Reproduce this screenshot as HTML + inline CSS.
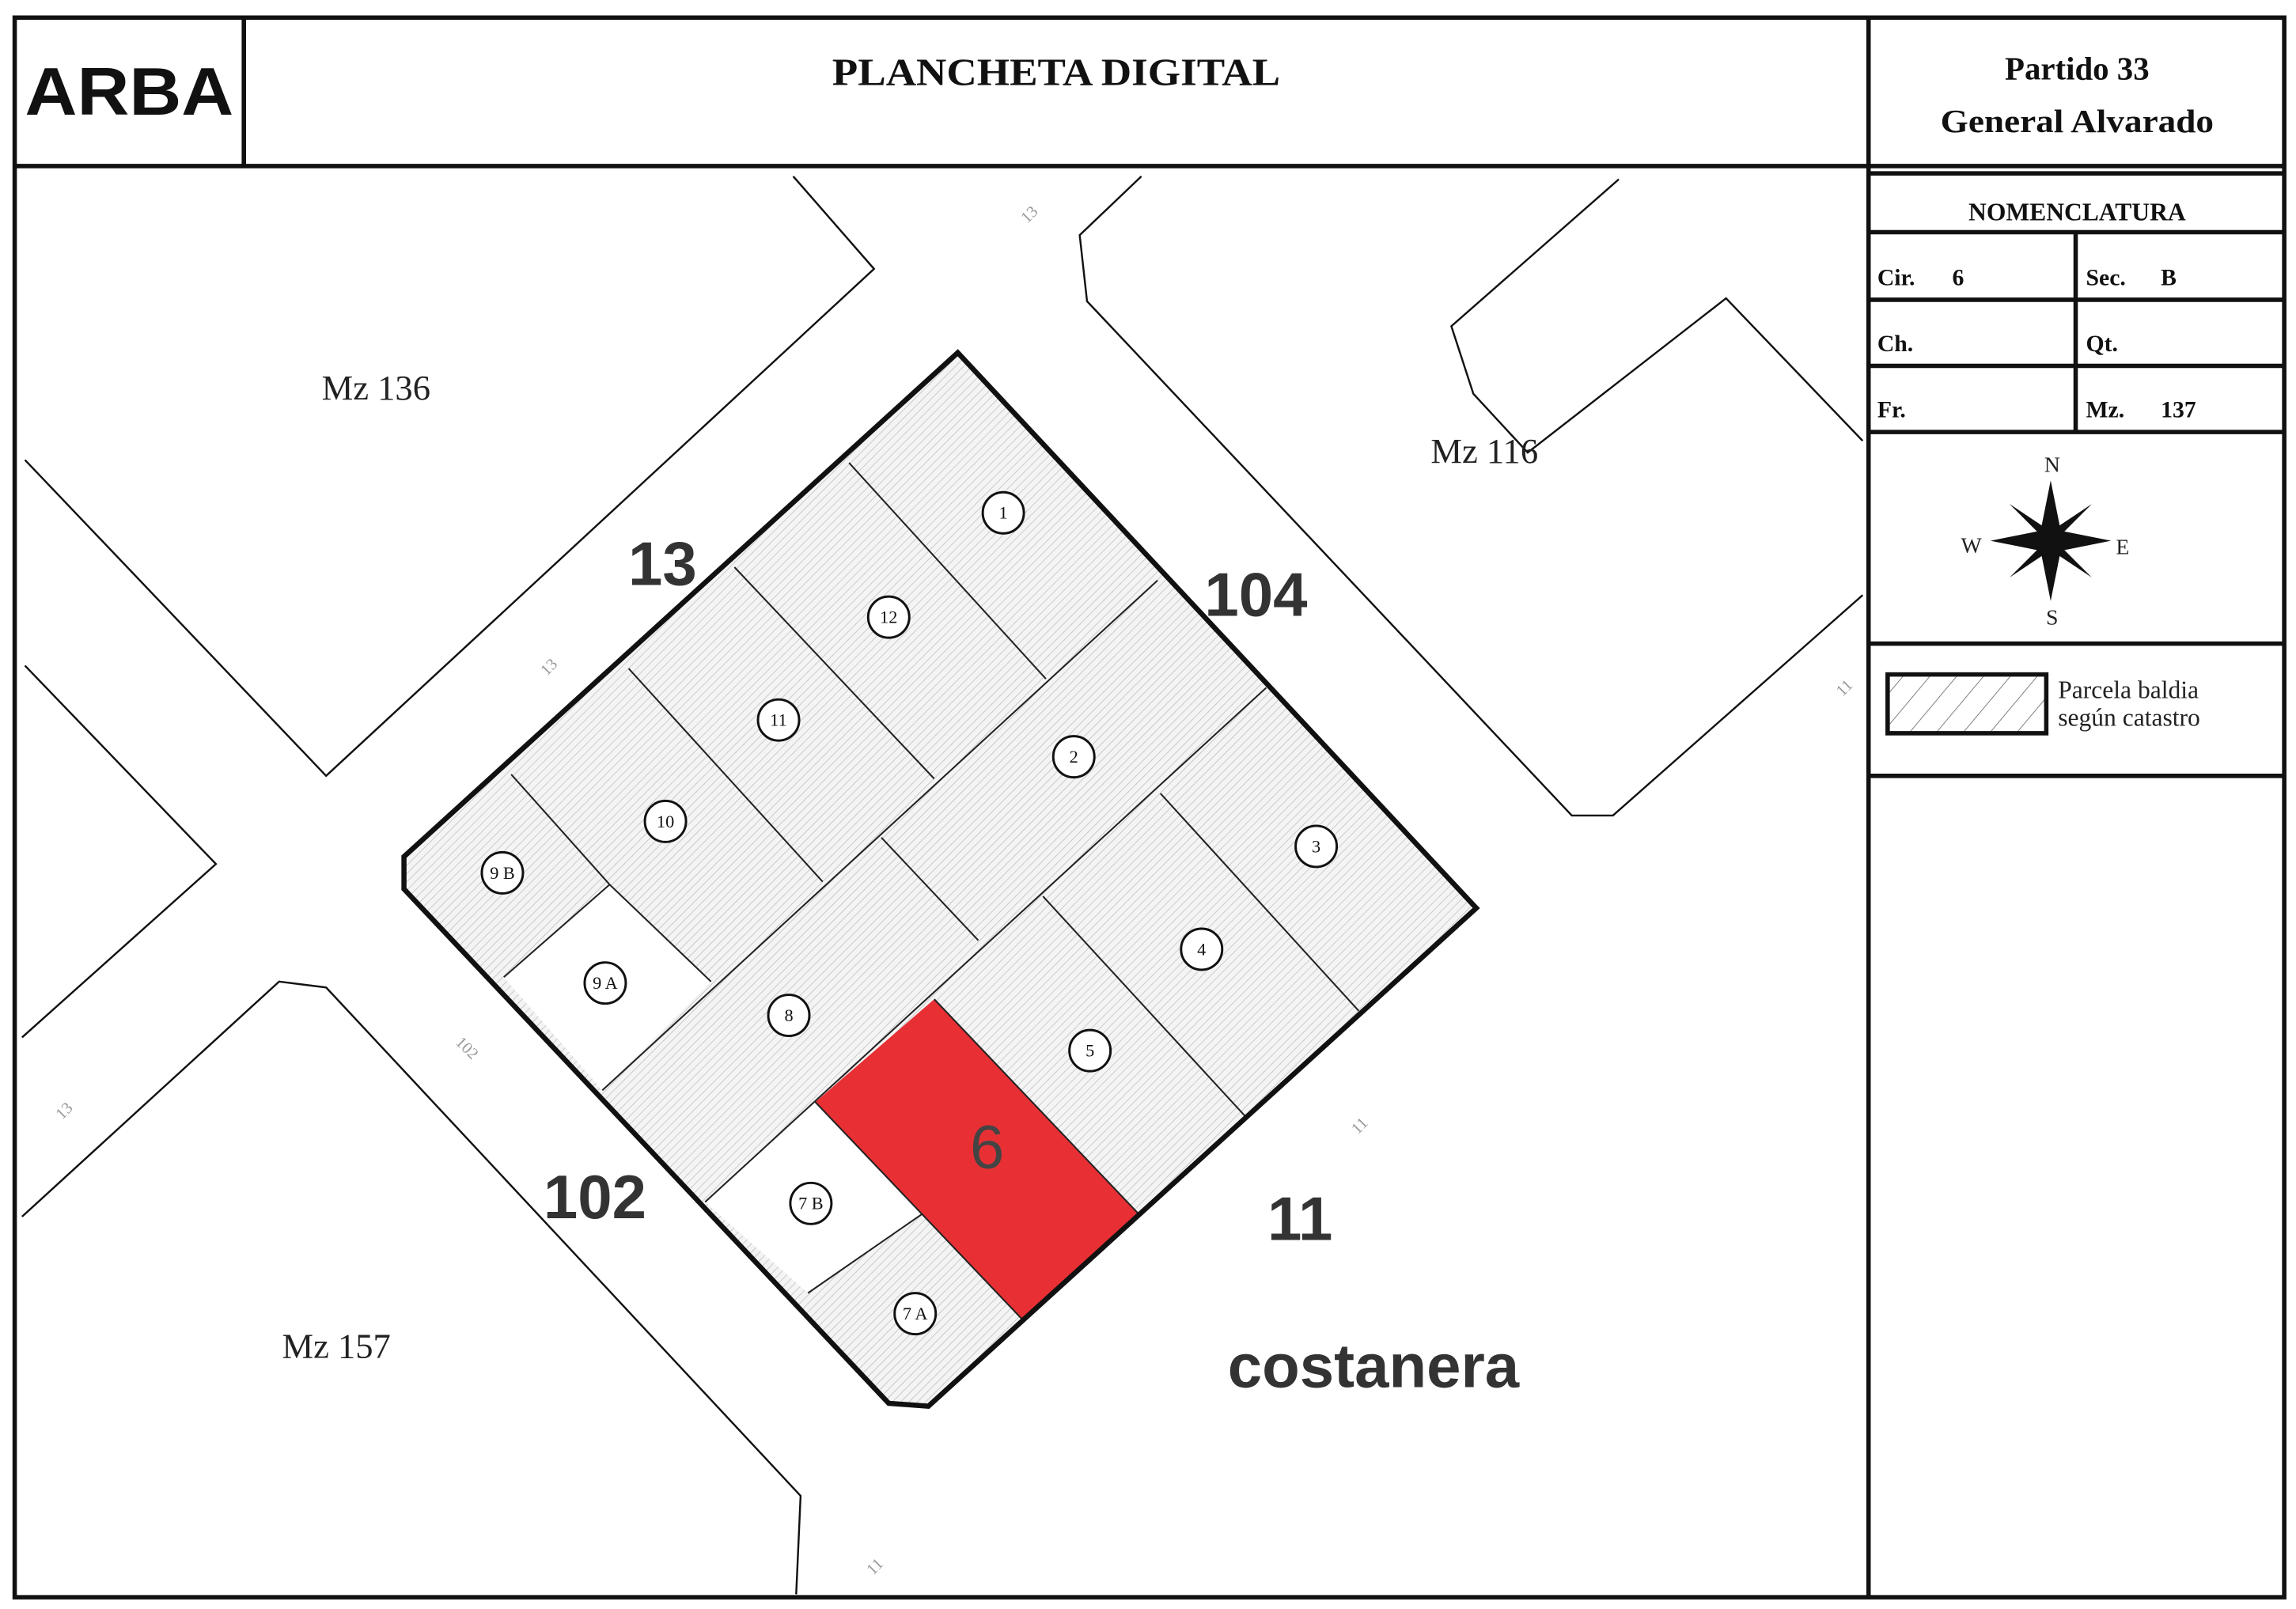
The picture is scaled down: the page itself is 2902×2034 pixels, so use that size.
<!DOCTYPE html>
<html><head><meta charset="utf-8"><style>
html,body{margin:0;padding:0;background:#fff;}
svg{display:block;}
</style></head><body>
<svg width="2902" height="2034" viewBox="0 0 1563 1095" preserveAspectRatio="none" xmlns="http://www.w3.org/2000/svg">
<defs>
<pattern id="h" width="4" height="4" patternUnits="userSpaceOnUse" patternTransform="rotate(45)">
<rect width="4" height="4" fill="#f4f4f4"/>
<line x1="0" y1="0" x2="0" y2="4" stroke="#bdbdbd" stroke-width="0.8"/>
</pattern>
<pattern id="lg" width="14" height="14" patternUnits="userSpaceOnUse" patternTransform="rotate(40)">
<line x1="0" y1="0" x2="0" y2="14" stroke="#555" stroke-width="0.8"/>
</pattern>
</defs>
<rect width="1563" height="1095" fill="#fff"/>
<g fill="none" stroke="#111" stroke-width="3">
<rect x="10" y="12" width="1545" height="1075"/>
<line x1="10" y1="113" x2="1555" y2="113"/>
<line x1="166" y1="12" x2="166" y2="113"/>
<line x1="1272" y1="12" x2="1272" y2="1087"/>
<line x1="1272" y1="118" x2="1555" y2="118"/>
<line x1="1272" y1="158" x2="1555" y2="158"/>
<line x1="1272" y1="204" x2="1555" y2="204"/>
<line x1="1272" y1="249" x2="1555" y2="249"/>
<line x1="1272" y1="294" x2="1555" y2="294"/>
<line x1="1413" y1="158" x2="1413" y2="294"/>
<line x1="1272" y1="438" x2="1555" y2="438"/>
<line x1="1272" y1="528" x2="1555" y2="528"/>
</g>
<text x="88" y="78" font-family="Liberation Sans, sans-serif" font-weight="bold" font-size="46" text-anchor="middle" fill="#111" textLength="142" lengthAdjust="spacingAndGlyphs">ARBA</text>
<text x="719" y="58" font-family="Liberation Serif, serif" font-weight="bold" font-size="26" text-anchor="middle" fill="#111" textLength="305" lengthAdjust="spacingAndGlyphs">PLANCHETA DIGITAL</text>
<g font-family="Liberation Serif, serif" font-weight="bold" fill="#111">
<text x="1414" y="54" font-size="22" text-anchor="middle">Partido 33</text>
<text x="1414" y="90" font-size="22" text-anchor="middle" textLength="186" lengthAdjust="spacingAndGlyphs">General Alvarado</text>
<text x="1414" y="150" font-size="17" text-anchor="middle">NOMENCLATURA</text>
<text x="1278" y="194" font-size="16">Cir.</text><text x="1329" y="194" font-size="16">6</text>
<text x="1420" y="194" font-size="16">Sec.</text><text x="1471" y="194" font-size="16">B</text>
<text x="1278" y="239" font-size="16">Ch.</text>
<text x="1420" y="239" font-size="16">Qt.</text>
<text x="1278" y="284" font-size="16">Fr.</text>
<text x="1420" y="284" font-size="16">Mz.</text><text x="1471" y="284" font-size="16">137</text>
</g>
<g fill="#111">
<polygon points="1396,327 1403,362 1396,368 1389,362"/>
<polygon points="1396,409 1389,374 1396,368 1403,374"/>
<polygon points="1355,368 1390,361 1396,368 1390,375"/>
<polygon points="1437,368 1402,375 1396,368 1402,361"/>
<polygon points="1368,343 1398,363 1396,368 1391,366"/>
<polygon points="1424,393 1394,373 1396,368 1401,370"/>
<polygon points="1424,343 1401,366 1396,368 1394,363"/>
<polygon points="1368,393 1391,370 1396,368 1398,373"/>
</g>
<g font-family="Liberation Serif, serif" font-size="15" fill="#222" text-anchor="middle">
<text x="1397" y="321">N</text><text x="1397" y="425">S</text>
<text x="1342" y="376">W</text><text x="1445" y="377">E</text>
</g>
<rect x="1285" y="459" width="108" height="40" fill="url(#lg)" stroke="#111" stroke-width="3"/>
<g font-family="Liberation Serif, serif" font-size="17" fill="#222">
<text x="1401" y="475">Parcela baldia</text>
<text x="1401" y="494">según catastro</text>
</g>
<g fill="none" stroke="#111" stroke-width="1.3">
<polyline points="540,120 595,183 222,528 17,313"/>
<polyline points="17,453 147,588 15,706"/>
<polyline points="15,828 190,668 222,672 545,1018 542,1085"/>
<polyline points="777,120 735,160 740,205 1070,555 1098,555 1268,405"/>
<polyline points="1102,122 988,222 1003,268 1040,308 1175,203 1268,300"/>
</g>
<polygon points="652,240 1005,618 632,957 605,955 275,605 275,583" fill="url(#h)"/>
<polygon points="343,665 415,602 484,668 410,742" fill="#fff"/>
<polygon points="480,818 555,750 628,826 550,880" fill="#fff"/>
<polygon points="636,680 775,826 696,898 555,750" fill="#e83034"/>
<g fill="none" stroke="#222" stroke-width="1.1">
<line x1="788" y1="395" x2="410" y2="742"/>
<line x1="862" y1="468" x2="480" y2="818"/>
<line x1="578" y1="315" x2="712" y2="462"/>
<line x1="500" y1="386" x2="636" y2="530"/>
<line x1="428" y1="455" x2="560" y2="600"/>
<line x1="348" y1="527" x2="415" y2="602"/>
<line x1="343" y1="665" x2="415" y2="602"/>
<line x1="415" y1="602" x2="484" y2="668"/>
<line x1="600" y1="570" x2="666" y2="640"/>
<line x1="790" y1="540" x2="925" y2="688"/>
<line x1="710" y1="610" x2="848" y2="760"/>
<line x1="636" y1="680" x2="775" y2="826"/>
<line x1="555" y1="750" x2="696" y2="898"/>
<line x1="550" y1="880" x2="628" y2="826"/>
</g>
<polygon points="652,240 1005,618 632,957 605,955 275,605 275,583" fill="none" stroke="#111" stroke-width="3.5"/>
<g fill="#fff" stroke="#111" stroke-width="1.6">
<circle cx="683" cy="349" r="14"/><circle cx="605" cy="420" r="14"/><circle cx="530" cy="490" r="14"/>
<circle cx="453" cy="559" r="14"/><circle cx="342" cy="594" r="14"/><circle cx="412" cy="669" r="14"/>
<circle cx="731" cy="515" r="14"/><circle cx="537" cy="691" r="14"/><circle cx="896" cy="576" r="14"/>
<circle cx="818" cy="646" r="14"/><circle cx="742" cy="715" r="14"/><circle cx="552" cy="819" r="14"/>
<circle cx="623" cy="894" r="14"/>
</g>
<g font-family="Liberation Serif, serif" font-size="12" fill="#111" text-anchor="middle">
<text x="683" y="353">1</text><text x="605" y="424">12</text><text x="530" y="494">11</text>
<text x="453" y="563">10</text><text x="342" y="598">9 B</text><text x="412" y="673">9 A</text>
<text x="731" y="519">2</text><text x="537" y="695">8</text><text x="896" y="580">3</text>
<text x="818" y="650">4</text><text x="742" y="719">5</text><text x="552" y="823">7 B</text>
<text x="623" y="898">7 A</text>
</g>
<g font-family="Liberation Serif, serif" font-size="24" fill="#222">
<text x="219" y="272">Mz 136</text>
<text x="974" y="315">Mz 116</text>
<text x="192" y="924">Mz 157</text>
</g>
<g font-family="Liberation Serif, serif" font-size="11" fill="#999">
<text x="695" y="150" transform="rotate(-45 700 146)">13</text>
<text x="368" y="458" transform="rotate(-45 373 454)">13</text>
<text x="38" y="760" transform="rotate(-45 43 756)">13</text>
<text x="310" y="715" transform="rotate(45 316 712)">102</text>
<text x="920" y="770" transform="rotate(-45 925 766)">11</text>
<text x="1250" y="472" transform="rotate(-45 1255 468)">11</text>
<text x="590" y="1070" transform="rotate(-45 595 1066)">11</text>
</g>
<g font-family="Liberation Sans, sans-serif" font-weight="bold" fill="#333">
<text x="451" y="398" font-size="42" text-anchor="middle">13</text>
<text x="855" y="419" font-size="42" text-anchor="middle">104</text>
<text x="405" y="829" font-size="42" text-anchor="middle">102</text>
<text x="885" y="844" font-size="42" text-anchor="middle">11</text>
<text x="935" y="944" font-size="42" text-anchor="middle">costanera</text>
</g>
<text x="672" y="795" font-family="Liberation Sans, sans-serif" font-size="42" fill="#444" text-anchor="middle">6</text>
</svg>
</body></html>
